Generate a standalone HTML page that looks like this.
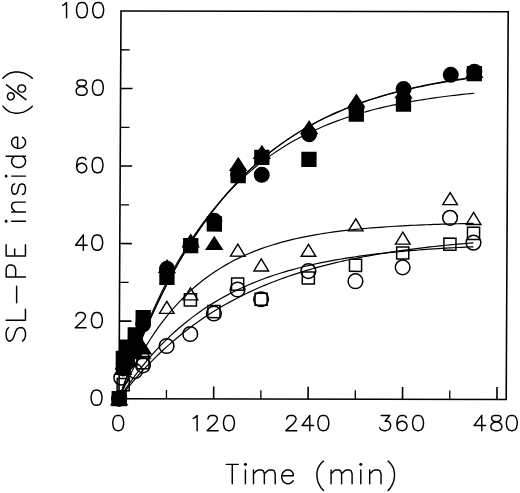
<!DOCTYPE html><html><head><meta charset="utf-8"><title>SL-PE inside vs Time</title>
<style>html,body{margin:0;padding:0;background:#fff;font-family:"Liberation Sans",sans-serif}svg{display:block}</style></head><body>
<svg width="520" height="493" viewBox="0 0 520 493">
<title>SL-PE inside (%) versus Time (min)</title><desc>Scatter plot with fitted exponential curves. X axis: Time (min) 0 120 240 360 480. Y axis: SL-PE inside (%) 0 20 40 60 80 100. Filled circles, squares, triangles rise to about 84%; open circles, squares, triangles rise to about 40-46%.</desc>
<rect width="520" height="493" fill="#fff"/>
<g transform="matrix(1 0.00190 -0.00516 1 2.056 -0.226)">
<rect x="119.00" y="11.00" width="387.20" height="387.70" fill="none" stroke="#000" stroke-width="1.6"/>
<path d="M213.64 398.70 V386.40 M308.08 398.70 V386.40 M402.52 398.70 V386.40 M496.96 398.70 V386.40 M119.00 321.08 H131.00 M119.00 243.56 H131.00 M119.00 166.04 H131.00 M119.00 88.52 H131.00" stroke="#000" stroke-width="1.6" fill="none"/>
<path d="M166.42 398.70 V389.90 M260.86 398.70 V389.90 M355.30 398.70 V389.90 M449.74 398.70 V389.90 M119.00 359.84 H128.00 M119.00 282.32 H128.00 M119.00 204.80 H128.00 M119.00 127.28 H128.00 M119.00 49.76 H128.00" stroke="#000" stroke-width="1.3" fill="none"/>
<path d="M119.20 398.60 L123.13 387.16 L127.06 376.12 L130.98 365.44 L134.91 355.13 L138.84 345.17 L142.76 335.55 L146.69 326.25 L150.62 317.27 L154.55 308.59 L158.47 300.21 L162.40 292.11 L166.33 284.29 L170.26 276.73 L174.19 269.42 L178.11 262.37 L182.04 255.55 L185.97 248.97 L189.89 242.61 L193.82 236.46 L197.75 230.53 L201.68 224.79 L205.61 219.25 L209.53 213.90 L213.46 208.72 L217.39 203.73 L221.31 198.90 L225.24 194.24 L229.17 189.73 L233.10 185.38 L237.03 181.17 L240.95 177.11 L244.88 173.19 L248.81 169.40 L252.74 165.73 L256.66 162.20 L260.59 158.78 L264.52 155.47 L268.44 152.28 L272.37 149.20 L276.30 146.22 L280.23 143.35 L284.15 140.57 L288.08 137.88 L292.01 135.29 L295.94 132.78 L299.87 130.36 L303.79 128.02 L307.72 125.76 L311.65 123.58 L315.57 121.47 L319.50 119.43 L323.43 117.46 L327.36 115.56 L331.28 113.73 L335.21 111.95 L339.14 110.24 L343.07 108.58 L347.00 106.98 L350.92 105.43 L354.85 103.94 L358.78 102.50 L362.70 101.10 L366.63 99.76 L370.56 98.45 L374.49 97.20 L378.41 95.98 L382.34 94.81 L386.27 93.68 L390.20 92.58 L394.12 91.52 L398.05 90.50 L401.98 89.51 L405.91 88.56 L409.83 87.64 L413.76 86.75 L417.69 85.89 L421.62 85.06 L425.54 84.26 L429.47 83.48 L433.40 82.73 L437.33 82.01 L441.25 81.31 L445.18 80.63 L449.11 79.98 L453.04 79.35 L456.96 78.74 L460.89 78.15 L464.82 77.58 L468.75 77.03 L472.67 76.50" stroke="#000" stroke-width="1.15" fill="none" stroke-linejoin="round"/>
<path d="M119.20 398.60 L123.13 387.14 L127.06 376.07 L130.98 365.38 L134.91 355.06 L138.84 345.08 L142.76 335.45 L146.69 326.14 L150.62 317.15 L154.55 308.47 L158.47 300.08 L162.40 291.97 L166.33 284.15 L170.26 276.59 L174.19 269.29 L178.11 262.23 L182.04 255.42 L185.97 248.84 L189.89 242.48 L193.82 236.34 L197.75 230.41 L201.68 224.68 L205.61 219.14 L209.53 213.80 L213.46 208.63 L217.39 203.64 L221.31 198.83 L225.24 194.17 L229.17 189.68 L233.10 185.33 L237.03 181.14 L240.95 177.09 L244.88 173.17 L248.81 169.39 L252.74 165.74 L256.66 162.21 L260.59 158.80 L264.52 155.51 L268.44 152.33 L272.37 149.26 L276.30 146.30 L280.23 143.43 L284.15 140.66 L288.08 137.99 L292.01 135.41 L295.94 132.91 L299.87 130.50 L303.79 128.18 L307.72 125.93 L311.65 123.76 L315.57 121.66 L319.50 119.63 L323.43 117.68 L327.36 115.79 L331.28 113.96 L335.21 112.20 L339.14 110.49 L343.07 108.85 L347.00 107.26 L350.92 105.72 L354.85 104.24 L358.78 102.80 L362.70 101.42 L366.63 100.08 L370.56 98.79 L374.49 97.54 L378.41 96.34 L382.34 95.17 L386.27 94.05 L390.20 92.96 L394.12 91.92 L398.05 90.90 L401.98 89.92 L405.91 88.98 L409.83 88.06 L413.76 87.18 L417.69 86.33 L421.62 85.51 L425.54 84.71 L429.47 83.94 L433.40 83.20 L437.33 82.49 L441.25 81.79 L445.18 81.13 L449.11 80.48 L453.04 79.86 L456.96 79.25 L460.89 78.67 L464.82 78.11 L468.75 77.57 L472.67 77.04" stroke="#000" stroke-width="1.15" fill="none" stroke-linejoin="round"/>
<path d="M119.20 398.60 L123.13 386.67 L127.06 375.19 L130.98 364.14 L134.91 353.51 L138.84 343.29 L142.76 333.44 L146.69 323.97 L150.62 314.86 L154.55 306.09 L158.47 297.66 L162.40 289.54 L166.33 281.73 L170.26 274.21 L174.19 266.98 L178.11 260.02 L182.04 253.32 L185.97 246.88 L189.89 240.68 L193.82 234.71 L197.75 228.97 L201.68 223.44 L205.61 218.13 L209.53 213.01 L213.46 208.09 L217.39 203.36 L221.31 198.80 L225.24 194.42 L229.17 190.20 L233.10 186.14 L237.03 182.23 L240.95 178.47 L244.88 174.85 L248.81 171.37 L252.74 168.03 L256.66 164.80 L260.59 161.70 L264.52 158.72 L268.44 155.85 L272.37 153.09 L276.30 150.43 L280.23 147.87 L284.15 145.41 L288.08 143.04 L292.01 140.76 L295.94 138.57 L299.87 136.46 L303.79 134.43 L307.72 132.48 L311.65 130.60 L315.57 128.79 L319.50 127.05 L323.43 125.37 L327.36 123.76 L331.28 122.21 L335.21 120.72 L339.14 119.28 L343.07 117.90 L347.00 116.57 L350.92 115.29 L354.85 114.06 L358.78 112.88 L362.70 111.74 L366.63 110.64 L370.56 109.59 L374.49 108.57 L378.41 107.59 L382.34 106.65 L386.27 105.75 L390.20 104.88 L394.12 104.04 L398.05 103.24 L401.98 102.46 L405.91 101.71 L409.83 101.00 L413.76 100.31 L417.69 99.64 L421.62 99.00 L425.54 98.39 L429.47 97.79 L433.40 97.22 L437.33 96.68 L441.25 96.15 L445.18 95.64 L449.11 95.15 L453.04 94.68 L456.96 94.23 L460.89 93.79 L464.82 93.38 L468.75 92.97 L472.67 92.58" stroke="#000" stroke-width="1.15" fill="none" stroke-linejoin="round"/>
<path d="M119.20 398.60 L123.13 389.60 L127.06 381.07 L130.98 372.96 L134.91 365.26 L138.84 357.96 L142.76 351.02 L146.69 344.44 L150.62 338.19 L154.55 332.25 L158.47 326.62 L162.40 321.27 L166.33 316.19 L170.26 311.37 L174.19 306.80 L178.11 302.46 L182.04 298.33 L185.97 294.42 L189.89 290.70 L193.82 287.17 L197.75 283.82 L201.68 280.65 L205.61 277.63 L209.53 274.76 L213.46 272.04 L217.39 269.46 L221.31 267.01 L225.24 264.68 L229.17 262.47 L233.10 260.37 L237.03 258.38 L240.95 256.49 L244.88 254.70 L248.81 252.99 L252.74 251.38 L256.66 249.84 L260.59 248.38 L264.52 247.00 L268.44 245.69 L272.37 244.44 L276.30 243.26 L280.23 242.13 L284.15 241.07 L288.08 240.05 L292.01 239.09 L295.94 238.18 L299.87 237.31 L303.79 236.49 L307.72 235.71 L311.65 234.97 L315.57 234.26 L319.50 233.60 L323.43 232.96 L327.36 232.36 L331.28 231.79 L335.21 231.25 L339.14 230.73 L343.07 230.24 L347.00 229.78 L350.92 229.34 L354.85 228.92 L358.78 228.52 L362.70 228.14 L366.63 227.79 L370.56 227.45 L374.49 227.12 L378.41 226.82 L382.34 226.53 L386.27 226.25 L390.20 225.99 L394.12 225.74 L398.05 225.50 L401.98 225.28 L405.91 225.07 L409.83 224.86 L413.76 224.67 L417.69 224.49 L421.62 224.32 L425.54 224.15 L429.47 224.00 L433.40 223.85 L437.33 223.71 L441.25 223.58 L445.18 223.45 L449.11 223.33 L453.04 223.22 L456.96 223.11 L460.89 223.00 L464.82 222.91 L468.75 222.81 L472.67 222.73" stroke="#000" stroke-width="1.20" fill="none" stroke-linejoin="round"/>
<path d="M119.20 398.60 L123.13 393.51 L127.06 388.58 L130.98 383.80 L134.91 379.16 L138.84 374.67 L142.76 370.31 L146.69 366.09 L150.62 361.99 L154.55 358.02 L158.47 354.17 L162.40 350.44 L166.33 346.83 L170.26 343.32 L174.19 339.92 L178.11 336.62 L182.04 333.43 L185.97 330.33 L189.89 327.32 L193.82 324.41 L197.75 321.59 L201.68 318.85 L205.61 316.20 L209.53 313.63 L213.46 311.13 L217.39 308.72 L221.31 306.37 L225.24 304.10 L229.17 301.90 L233.10 299.76 L237.03 297.69 L240.95 295.68 L244.88 293.74 L248.81 291.85 L252.74 290.02 L256.66 288.25 L260.59 286.53 L264.52 284.86 L268.44 283.25 L272.37 281.68 L276.30 280.16 L280.23 278.69 L284.15 277.26 L288.08 275.88 L292.01 274.54 L295.94 273.24 L299.87 271.98 L303.79 270.75 L307.72 269.57 L311.65 268.42 L315.57 267.31 L319.50 266.23 L323.43 265.18 L327.36 264.17 L331.28 263.18 L335.21 262.23 L339.14 261.30 L343.07 260.41 L347.00 259.54 L350.92 258.69 L354.85 257.88 L358.78 257.09 L362.70 256.32 L366.63 255.57 L370.56 254.85 L374.49 254.15 L378.41 253.47 L382.34 252.82 L386.27 252.18 L390.20 251.56 L394.12 250.96 L398.05 250.38 L401.98 249.82 L405.91 249.27 L409.83 248.74 L413.76 248.23 L417.69 247.73 L421.62 247.25 L425.54 246.78 L429.47 246.33 L433.40 245.89 L437.33 245.46 L441.25 245.05 L445.18 244.65 L449.11 244.26 L453.04 243.89 L456.96 243.52 L460.89 243.17 L464.82 242.82 L468.75 242.49 L472.67 242.17" stroke="#000" stroke-width="1.20" fill="none" stroke-linejoin="round"/>
<path d="M119.20 398.60 L123.13 392.52 L127.06 386.68 L130.98 381.06 L134.91 375.66 L138.84 370.47 L142.76 365.48 L146.69 360.68 L150.62 356.07 L154.55 351.64 L158.47 347.37 L162.40 343.28 L166.33 339.34 L170.26 335.56 L174.19 331.92 L178.11 328.42 L182.04 325.06 L185.97 321.83 L189.89 318.72 L193.82 315.74 L197.75 312.87 L201.68 310.11 L205.61 307.45 L209.53 304.90 L213.46 302.45 L217.39 300.10 L221.31 297.83 L225.24 295.66 L229.17 293.56 L233.10 291.55 L237.03 289.62 L240.95 287.76 L244.88 285.97 L248.81 284.25 L252.74 282.60 L256.66 281.02 L260.59 279.49 L264.52 278.02 L268.44 276.61 L272.37 275.26 L276.30 273.96 L280.23 272.70 L284.15 271.50 L288.08 270.34 L292.01 269.23 L295.94 268.16 L299.87 267.13 L303.79 266.14 L307.72 265.20 L311.65 264.28 L315.57 263.40 L319.50 262.56 L323.43 261.75 L327.36 260.97 L331.28 260.22 L335.21 259.50 L339.14 258.81 L343.07 258.14 L347.00 257.50 L350.92 256.89 L354.85 256.30 L358.78 255.73 L362.70 255.18 L366.63 254.66 L370.56 254.15 L374.49 253.67 L378.41 253.20 L382.34 252.75 L386.27 252.32 L390.20 251.91 L394.12 251.51 L398.05 251.12 L401.98 250.76 L405.91 250.40 L409.83 250.06 L413.76 249.74 L417.69 249.42 L421.62 249.12 L425.54 248.83 L429.47 248.55 L433.40 248.28 L437.33 248.02 L441.25 247.78 L445.18 247.54 L449.11 247.31 L453.04 247.09 L456.96 246.88 L460.89 246.67 L464.82 246.48 L468.75 246.29 L472.67 246.11" stroke="#000" stroke-width="1.20" fill="none" stroke-linejoin="round"/>
<circle cx="119.20" cy="398.60" r="7.35" fill="none" stroke="#000" stroke-width="1.5"/>
<circle cx="121.16" cy="377.67" r="7.35" fill="none" stroke="#000" stroke-width="1.5"/>
<circle cx="127.06" cy="362.17" r="7.35" fill="none" stroke="#000" stroke-width="1.5"/>
<circle cx="134.91" cy="371.08" r="7.35" fill="none" stroke="#000" stroke-width="1.5"/>
<circle cx="142.76" cy="365.27" r="7.35" fill="none" stroke="#000" stroke-width="1.5"/>
<circle cx="166.33" cy="345.89" r="7.35" fill="none" stroke="#000" stroke-width="1.5"/>
<circle cx="189.89" cy="333.87" r="7.35" fill="none" stroke="#000" stroke-width="1.5"/>
<circle cx="213.46" cy="313.33" r="7.35" fill="none" stroke="#000" stroke-width="1.5"/>
<circle cx="237.03" cy="289.30" r="7.35" fill="none" stroke="#000" stroke-width="1.5"/>
<circle cx="260.59" cy="298.99" r="7.35" fill="none" stroke="#000" stroke-width="1.5"/>
<circle cx="307.72" cy="270.69" r="7.35" fill="none" stroke="#000" stroke-width="1.5"/>
<circle cx="354.85" cy="280.77" r="7.35" fill="none" stroke="#000" stroke-width="1.5"/>
<circle cx="401.98" cy="266.82" r="7.35" fill="none" stroke="#000" stroke-width="1.5"/>
<circle cx="449.11" cy="217.20" r="7.35" fill="none" stroke="#000" stroke-width="1.5"/>
<circle cx="472.67" cy="242.01" r="7.35" fill="none" stroke="#000" stroke-width="1.5"/>
<rect x="113.15" y="392.55" width="12.1" height="12.1" fill="none" stroke="#000" stroke-width="1.5"/>
<rect x="117.08" y="378.60" width="12.1" height="12.1" fill="none" stroke="#000" stroke-width="1.5"/>
<rect x="121.01" y="341.00" width="12.1" height="12.1" fill="none" stroke="#000" stroke-width="1.5"/>
<rect x="128.86" y="328.98" width="12.1" height="12.1" fill="none" stroke="#000" stroke-width="1.5"/>
<rect x="136.71" y="356.50" width="12.1" height="12.1" fill="none" stroke="#000" stroke-width="1.5"/>
<rect x="183.84" y="293.71" width="12.1" height="12.1" fill="none" stroke="#000" stroke-width="1.5"/>
<rect x="207.41" y="305.34" width="12.1" height="12.1" fill="none" stroke="#000" stroke-width="1.5"/>
<rect x="230.97" y="277.82" width="12.1" height="12.1" fill="none" stroke="#000" stroke-width="1.5"/>
<rect x="254.54" y="292.94" width="12.1" height="12.1" fill="none" stroke="#000" stroke-width="1.5"/>
<rect x="301.67" y="271.62" width="12.1" height="12.1" fill="none" stroke="#000" stroke-width="1.5"/>
<rect x="348.80" y="258.83" width="12.1" height="12.1" fill="none" stroke="#000" stroke-width="1.5"/>
<rect x="395.93" y="246.42" width="12.1" height="12.1" fill="none" stroke="#000" stroke-width="1.5"/>
<rect x="443.06" y="237.51" width="12.1" height="12.1" fill="none" stroke="#000" stroke-width="1.5"/>
<rect x="466.62" y="226.66" width="12.1" height="12.1" fill="none" stroke="#000" stroke-width="1.5"/>
<path d="M119.20 392.40 L126.50 404.40 L111.90 404.40 Z" fill="none" stroke="#000" stroke-width="1.4" stroke-linejoin="miter"/>
<path d="M123.13 356.74 L130.43 368.74 L115.83 368.74 Z" fill="none" stroke="#000" stroke-width="1.4" stroke-linejoin="miter"/>
<path d="M127.06 340.85 L134.36 352.85 L119.76 352.85 Z" fill="none" stroke="#000" stroke-width="1.4" stroke-linejoin="miter"/>
<path d="M134.91 329.61 L142.21 341.61 L127.61 341.61 Z" fill="none" stroke="#000" stroke-width="1.4" stroke-linejoin="miter"/>
<path d="M142.76 345.89 L150.06 357.89 L135.46 357.89 Z" fill="none" stroke="#000" stroke-width="1.4" stroke-linejoin="miter"/>
<path d="M166.33 301.31 L173.63 313.31 L159.03 313.31 Z" fill="none" stroke="#000" stroke-width="1.4" stroke-linejoin="miter"/>
<path d="M189.89 287.75 L197.19 299.75 L182.59 299.75 Z" fill="none" stroke="#000" stroke-width="1.4" stroke-linejoin="miter"/>
<path d="M237.03 243.95 L244.33 255.95 L229.72 255.95 Z" fill="none" stroke="#000" stroke-width="1.4" stroke-linejoin="miter"/>
<path d="M260.59 258.68 L267.89 270.68 L253.29 270.68 Z" fill="none" stroke="#000" stroke-width="1.4" stroke-linejoin="miter"/>
<path d="M307.72 243.95 L315.02 255.95 L300.42 255.95 Z" fill="none" stroke="#000" stroke-width="1.4" stroke-linejoin="miter"/>
<path d="M354.85 218.37 L362.15 230.37 L347.55 230.37 Z" fill="none" stroke="#000" stroke-width="1.4" stroke-linejoin="miter"/>
<path d="M401.98 231.55 L409.28 243.55 L394.68 243.55 Z" fill="none" stroke="#000" stroke-width="1.4" stroke-linejoin="miter"/>
<path d="M449.11 192.01 L456.41 204.01 L441.81 204.01 Z" fill="none" stroke="#000" stroke-width="1.4" stroke-linejoin="miter"/>
<path d="M472.67 211.78 L479.97 223.78 L465.37 223.78 Z" fill="none" stroke="#000" stroke-width="1.4" stroke-linejoin="miter"/>
<circle cx="119.20" cy="398.60" r="8" fill="#000"/>
<circle cx="123.13" cy="368.37" r="8" fill="#000"/>
<circle cx="127.06" cy="357.90" r="8" fill="#000"/>
<circle cx="134.91" cy="342.40" r="8" fill="#000"/>
<circle cx="142.76" cy="324.18" r="8" fill="#000"/>
<circle cx="166.33" cy="268.75" r="8" fill="#000"/>
<circle cx="189.89" cy="245.11" r="8" fill="#000"/>
<circle cx="213.46" cy="220.69" r="8" fill="#000"/>
<circle cx="237.03" cy="174.57" r="8" fill="#000"/>
<circle cx="260.59" cy="174.57" r="8" fill="#000"/>
<circle cx="307.72" cy="133.87" r="8" fill="#000"/>
<circle cx="354.85" cy="107.90" r="8" fill="#000"/>
<circle cx="401.98" cy="88.52" r="8" fill="#000"/>
<circle cx="449.11" cy="74.18" r="8" fill="#000"/>
<circle cx="472.67" cy="71.08" r="8" fill="#000"/>
<rect x="111.55" y="390.95" width="15.3" height="15.3" fill="#000"/>
<rect x="115.48" y="350.64" width="15.3" height="15.3" fill="#000"/>
<rect x="119.41" y="339.40" width="15.3" height="15.3" fill="#000"/>
<rect x="127.26" y="327.19" width="15.3" height="15.3" fill="#000"/>
<rect x="135.11" y="309.94" width="15.3" height="15.3" fill="#000"/>
<rect x="158.68" y="269.63" width="15.3" height="15.3" fill="#000"/>
<rect x="182.24" y="237.85" width="15.3" height="15.3" fill="#000"/>
<rect x="205.81" y="216.14" width="15.3" height="15.3" fill="#000"/>
<rect x="229.38" y="167.69" width="15.3" height="15.3" fill="#000"/>
<rect x="252.94" y="149.48" width="15.3" height="15.3" fill="#000"/>
<rect x="300.07" y="151.41" width="15.3" height="15.3" fill="#000"/>
<rect x="347.20" y="106.06" width="15.3" height="15.3" fill="#000"/>
<rect x="394.33" y="95.99" width="15.3" height="15.3" fill="#000"/>
<rect x="465.02" y="65.37" width="15.3" height="15.3" fill="#000"/>
<path d="M119.20 391.40 L128.40 405.60 L110.00 405.60 Z" fill="#000"/>
<path d="M123.13 360.78 L132.33 374.98 L113.93 374.98 Z" fill="#000"/>
<path d="M127.06 352.64 L136.25 366.84 L117.86 366.84 Z" fill="#000"/>
<path d="M134.91 344.89 L144.11 359.09 L125.71 359.09 Z" fill="#000"/>
<path d="M142.76 340.24 L151.96 354.44 L133.56 354.44 Z" fill="#000"/>
<path d="M166.33 258.84 L175.53 273.04 L157.13 273.04 Z" fill="#000"/>
<path d="M189.89 233.26 L199.09 247.46 L180.69 247.46 Z" fill="#000"/>
<path d="M213.46 235.58 L222.66 249.78 L204.26 249.78 Z" fill="#000"/>
<path d="M237.03 156.51 L246.22 170.71 L227.83 170.71 Z" fill="#000"/>
<path d="M260.59 144.50 L269.79 158.70 L251.39 158.70 Z" fill="#000"/>
<path d="M307.72 119.69 L316.92 133.89 L298.52 133.89 Z" fill="#000"/>
<path d="M354.85 92.95 L364.05 107.15 L345.65 107.15 Z" fill="#000"/>
<path d="M401.98 83.65 L411.18 97.85 L392.78 97.85 Z" fill="#000"/>
<path d="M472.67 63.10 L481.87 77.30 L463.47 77.30 Z" fill="#000"/>
</g>
<path d="M117.42 415.42 L115.10 416.15 L113.55 418.32 L112.78 421.95 L112.78 424.12 L113.55 427.75 L115.10 429.92 L117.42 430.65 L118.98 430.65 L121.30 429.92 L122.85 427.75 L123.62 424.12 L123.62 421.95 L122.85 418.32 L121.30 416.15 L118.98 415.42 L117.42 415.42 M193.25 418.32 L194.80 417.60 L197.12 415.42 L197.12 430.65 M208.00 419.05 L208.00 418.32 L208.78 416.88 L209.55 416.15 L211.10 415.42 L214.20 415.42 L215.75 416.15 L216.53 416.88 L217.30 418.32 L217.30 419.77 L216.53 421.22 L214.97 423.40 L207.22 430.65 L218.08 430.65 M228.17 415.42 L225.85 416.15 L224.30 418.32 L223.52 421.95 L223.52 424.12 L224.30 427.75 L225.85 429.92 L228.17 430.65 L229.72 430.65 L232.05 429.92 L233.60 427.75 L234.38 424.12 L234.38 421.95 L233.60 418.32 L232.05 416.15 L229.72 415.42 L228.17 415.42 M286.70 419.05 L286.70 418.32 L287.48 416.88 L288.25 416.15 L289.80 415.42 L292.90 415.42 L294.45 416.15 L295.23 416.88 L296.00 418.32 L296.00 419.77 L295.23 421.22 L293.68 423.40 L285.93 430.65 L296.78 430.65 M309.77 415.42 L302.02 425.57 L313.65 425.57 M309.77 415.42 L309.77 430.65 M322.58 415.42 L320.25 416.15 L318.70 418.32 L317.93 421.95 L317.93 424.12 L318.70 427.75 L320.25 429.92 L322.58 430.65 L324.12 430.65 L326.45 429.92 L328.00 427.75 L328.78 424.12 L328.78 421.95 L328.00 418.32 L326.45 416.15 L324.12 415.42 L322.58 415.42 M381.27 415.42 L389.80 415.42 L385.15 421.22 L387.47 421.22 L389.02 421.95 L389.80 422.67 L390.57 424.85 L390.57 426.30 L389.80 428.47 L388.25 429.92 L385.92 430.65 L383.60 430.65 L381.27 429.92 L380.50 429.20 L379.72 427.75 M406.30 417.60 L405.52 416.15 L403.20 415.42 L401.65 415.42 L399.32 416.15 L397.77 418.32 L397.00 421.95 L397.00 425.57 L397.77 428.47 L399.32 429.92 L401.65 430.65 L402.42 430.65 L404.75 429.92 L406.30 428.47 L407.07 426.30 L407.07 425.57 L406.30 423.40 L404.75 421.95 L402.42 421.22 L401.65 421.22 L399.32 421.95 L397.77 423.40 L397.00 425.57 M417.28 415.42 L414.95 416.15 L413.40 418.32 L412.62 421.95 L412.62 424.12 L413.40 427.75 L414.95 429.92 L417.28 430.65 L418.82 430.65 L421.15 429.92 L422.70 427.75 L423.48 424.12 L423.48 421.95 L422.70 418.32 L421.15 416.15 L418.82 415.42 L417.28 415.42 M481.77 415.42 L474.02 425.57 L485.65 425.57 M481.77 415.42 L481.77 430.65 M494.80 415.42 L492.48 416.15 L491.70 417.60 L491.70 419.05 L492.48 420.50 L494.03 421.22 L497.12 421.95 L499.45 422.67 L501.00 424.12 L501.78 425.57 L501.78 427.75 L501.00 429.20 L500.23 429.92 L497.90 430.65 L494.80 430.65 L492.48 429.92 L491.70 429.20 L490.93 427.75 L490.93 425.57 L491.70 424.12 L493.25 422.67 L495.58 421.95 L498.68 421.22 L500.23 420.50 L501.00 419.05 L501.00 417.60 L500.23 416.15 L497.90 415.42 L494.80 415.42 M511.03 415.42 L508.70 416.15 L507.15 418.32 L506.38 421.95 L506.38 424.12 L507.15 427.75 L508.70 429.92 L511.03 430.65 L512.58 430.65 L514.90 429.92 L516.45 427.75 L517.23 424.12 L517.23 421.95 L516.45 418.32 L514.90 416.15 L512.58 415.42 L511.03 415.42 M95.77 390.07 L93.45 390.80 L91.90 392.98 L91.12 396.60 L91.12 398.78 L91.90 402.40 L93.45 404.57 L95.77 405.30 L97.32 405.30 L99.65 404.57 L101.20 402.40 L101.97 398.78 L101.97 396.60 L101.20 392.98 L99.65 390.80 L97.32 390.07 L95.77 390.07 M76.03 316.18 L76.03 315.46 L76.80 314.01 L77.58 313.28 L79.13 312.56 L82.23 312.56 L83.78 313.28 L84.55 314.01 L85.33 315.46 L85.33 316.91 L84.55 318.36 L83.00 320.53 L75.25 327.78 L86.10 327.78 M96.10 312.56 L93.78 313.28 L92.23 315.46 L91.45 319.08 L91.45 321.26 L92.23 324.88 L93.78 327.06 L96.10 327.78 L97.65 327.78 L99.98 327.06 L101.53 324.88 L102.30 321.26 L102.30 319.08 L101.53 315.46 L99.98 313.28 L97.65 312.56 L96.10 312.56 M83.33 235.04 L75.58 245.19 L87.20 245.19 M83.33 235.04 L83.33 250.26 M96.43 235.04 L94.10 235.76 L92.55 237.94 L91.78 241.56 L91.78 243.74 L92.55 247.36 L94.10 249.54 L96.43 250.26 L97.98 250.26 L100.30 249.54 L101.85 247.36 L102.63 243.74 L102.63 241.56 L101.85 237.94 L100.30 235.76 L97.98 235.04 L96.43 235.04 M85.98 159.69 L85.20 158.24 L82.88 157.52 L81.33 157.52 L79.00 158.24 L77.45 160.42 L76.68 164.04 L76.68 167.67 L77.45 170.56 L79.00 172.02 L81.33 172.74 L82.10 172.74 L84.43 172.02 L85.98 170.56 L86.75 168.39 L86.75 167.67 L85.98 165.49 L84.43 164.04 L82.10 163.31 L81.33 163.31 L79.00 164.04 L77.45 165.49 L76.68 167.67 M96.75 157.52 L94.43 158.24 L92.88 160.42 L92.10 164.04 L92.10 166.22 L92.88 169.84 L94.43 172.02 L96.75 172.74 L98.30 172.74 L100.63 172.02 L102.18 169.84 L102.95 166.22 L102.95 164.04 L102.18 160.42 L100.63 158.24 L98.30 157.52 L96.75 157.52 M80.10 80.00 L77.78 80.72 L77.00 82.17 L77.00 83.62 L77.78 85.07 L79.33 85.80 L82.43 86.52 L84.75 87.25 L86.30 88.70 L87.08 90.15 L87.08 92.32 L86.30 93.77 L85.53 94.50 L83.20 95.22 L80.10 95.22 L77.78 94.50 L77.00 93.77 L76.23 92.32 L76.23 90.15 L77.00 88.70 L78.55 87.25 L80.88 86.52 L83.98 85.80 L85.53 85.07 L86.30 83.62 L86.30 82.17 L85.53 80.72 L83.20 80.00 L80.10 80.00 M97.08 80.00 L94.75 80.72 L93.20 82.90 L92.43 86.52 L92.43 88.70 L93.20 92.32 L94.75 94.50 L97.08 95.22 L98.63 95.22 L100.95 94.50 L102.50 92.32 L103.28 88.70 L103.28 86.52 L102.50 82.90 L100.95 80.72 L98.63 80.00 L97.08 80.00 M62.68 5.38 L64.23 4.65 L66.55 2.48 L66.55 17.70 M81.20 2.48 L78.88 3.20 L77.33 5.38 L76.55 9.00 L76.55 11.18 L77.33 14.80 L78.88 16.98 L81.20 17.70 L82.75 17.70 L85.08 16.98 L86.63 14.80 L87.40 11.18 L87.40 9.00 L86.63 5.38 L85.08 3.20 L82.75 2.48 L81.20 2.48 M97.40 2.48 L95.08 3.20 L93.53 5.38 L92.75 9.00 L92.75 11.18 L93.53 14.80 L95.08 16.98 L97.40 17.70 L98.95 17.70 L101.28 16.98 L102.83 14.80 L103.60 11.18 L103.60 9.00 L102.83 5.38 L101.28 3.20 L98.95 2.48 L97.40 2.48" fill="none" stroke="#000" stroke-width="1.45" stroke-linecap="round" stroke-linejoin="round"/>
<path d="M232.26 464.35 L232.26 483.65 M226.26 464.35 L238.25 464.35 M244.45 464.35 L245.40 465.15 L246.35 464.35 L245.40 463.55 L244.45 464.35 M245.40 469.93 L245.40 483.65 M253.50 469.93 L253.50 483.65 M253.50 473.85 L256.46 470.91 L258.43 469.93 L261.39 469.93 L263.36 470.91 L264.35 473.85 L264.35 483.65 M264.35 473.85 L267.31 470.91 L269.28 469.93 L272.24 469.93 L274.21 470.91 L275.20 473.85 L275.20 483.65 M281.75 475.81 L293.25 475.81 L293.25 473.85 L292.29 471.89 L291.33 470.91 L289.42 469.93 L286.54 469.93 L284.63 470.91 L282.71 472.87 L281.75 475.81 L281.75 477.77 L282.71 480.71 L284.63 482.67 L286.54 483.65 L289.42 483.65 L291.33 482.67 L293.25 480.71 M323.46 461.16 L321.60 462.76 L319.74 465.15 L317.88 468.34 L316.95 472.87 L316.95 476.79 L317.88 481.69 L319.74 485.61 L321.60 488.55 L323.46 490.51 M331.10 469.93 L331.10 483.65 M331.10 473.85 L333.96 470.91 L335.88 469.93 L338.74 469.93 L340.65 470.91 L341.60 473.85 L341.60 483.65 M341.60 473.85 L344.47 470.91 L346.38 469.93 L349.24 469.93 L351.15 470.91 L352.11 473.85 L352.11 483.65 M359.85 464.35 L360.80 465.15 L361.75 464.35 L360.80 463.55 L359.85 464.35 M360.80 469.93 L360.80 483.65 M369.70 469.93 L369.70 483.65 M369.70 473.85 L372.79 470.91 L374.85 469.93 L377.94 469.93 L380.00 470.91 L381.03 473.85 L381.03 483.65 M388.05 461.16 L389.88 462.76 L391.70 465.15 L393.54 468.34 L394.45 472.87 L394.45 476.79 L393.54 481.69 L391.70 485.61 L389.88 488.55 L388.05 490.51 M8.54 327.65 L6.95 329.56 L6.15 332.44 L6.15 336.26 L6.95 339.13 L8.54 341.05 L10.14 341.05 L11.73 340.09 L12.71 339.13 L13.69 337.22 L15.65 331.48 L16.63 329.56 L17.61 328.61 L19.57 327.65 L22.51 327.65 L24.47 329.56 L25.45 332.44 L25.45 336.26 L24.47 339.13 L22.51 341.05 M6.15 320.20 L25.45 320.20 M25.45 320.20 L25.45 309.25 M16.63 302.85 L16.63 286.26 M6.15 277.00 L25.45 277.00 M6.15 277.00 L6.15 269.25 L6.95 266.66 L7.74 265.80 L9.34 264.94 L11.73 264.94 L13.69 265.80 L14.67 266.66 L15.65 269.25 L15.65 277.00 M6.15 256.00 L25.45 256.00 M6.15 256.00 L6.15 244.65 M14.67 256.00 L14.67 249.01 M25.45 256.00 L25.45 244.65 M6.15 222.15 L6.95 221.20 L6.15 220.25 L5.35 221.20 L6.15 222.15 M11.73 221.20 L25.45 221.20 M11.73 212.00 L25.45 212.00 M15.65 212.00 L12.71 209.30 L11.73 207.50 L11.73 204.80 L12.71 203.00 L15.65 202.10 L25.45 202.10 M14.67 183.94 L12.71 184.90 L11.73 187.76 L11.73 190.62 L12.71 193.49 L14.67 194.44 L16.63 193.49 L17.61 191.58 L18.59 186.81 L19.57 184.90 L21.53 183.94 L22.51 183.94 L24.47 184.90 L25.45 187.76 L25.45 190.62 L24.47 193.49 L22.51 194.44 M6.15 177.05 L6.95 176.10 L6.15 175.15 L5.35 176.10 L6.15 177.05 M11.73 176.10 L25.45 176.10 M6.15 156.20 L25.45 156.20 M14.67 156.20 L12.71 158.09 L11.73 159.98 L11.73 162.82 L12.71 164.71 L14.67 166.61 L17.61 167.55 L19.57 167.55 L22.51 166.61 L24.47 164.71 L25.45 162.82 L25.45 159.98 L24.47 158.09 L22.51 156.20 M17.61 148.35 L17.61 137.16 L15.65 137.16 L13.69 138.09 L12.71 139.02 L11.73 140.89 L11.73 143.69 L12.71 145.55 L14.67 147.42 L17.61 148.35 L19.57 148.35 L22.51 147.42 L24.47 145.55 L25.45 143.69 L25.45 140.89 L24.47 139.02 L22.51 137.16 M2.96 106.15 L4.56 108.15 L6.95 110.15 L10.14 112.15 L14.67 113.15 L18.59 113.15 L23.49 112.15 L27.41 110.15 L30.35 108.15 L32.31 106.15 M6.55 84.85 L25.94 99.65 M10.61 92.66 L9.39 92.94 L8.36 93.72 L7.67 94.90 L7.43 96.29 L7.67 97.68 L8.36 98.86 L9.39 99.65 L10.61 99.92 L11.86 99.65 L13.13 98.86 L13.98 97.68 L14.28 96.29 L13.98 94.90 L13.13 93.72 L11.86 92.94 L10.61 92.66 M21.73 84.85 L20.23 85.13 L18.95 85.91 L18.10 87.09 L17.81 88.48 L18.10 89.87 L18.95 91.05 L20.23 91.84 L21.73 92.11 L23.23 91.84 L24.50 91.05 L25.35 89.87 L25.65 88.48 L25.35 87.09 L24.50 85.91 L23.23 85.13 L21.73 84.85 M2.96 78.35 L4.56 76.55 L6.95 74.75 L10.14 72.95 L14.67 72.05 L18.59 72.05 L23.49 72.95 L27.41 74.75 L30.35 76.55 L32.31 78.35" fill="none" stroke="#000" stroke-width="1.45" stroke-linecap="round" stroke-linejoin="round"/>
</svg></body></html>
